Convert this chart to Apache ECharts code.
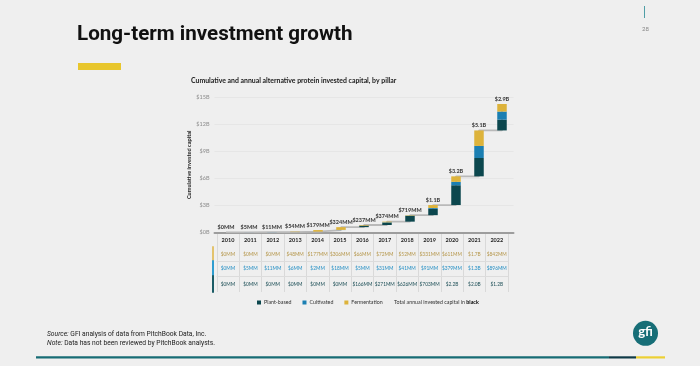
<!DOCTYPE html>
<html><head><meta charset="utf-8">
<script src="https://cdn.jsdelivr.net/npm/echarts@6/dist/echarts.min.js"></script>
<style>html,body{margin:0;padding:0;background:#efefef;}#c{width:700px;height:366px;}</style>
</head><body><div id="c"></div>
<script>
// ---- data (values in $MM) ----
const years = ['2010','2011','2012','2013','2014','2015','2016','2017','2018','2019','2020','2021','2022'];
const plantBased   = [0, 0, 0, 0, 0, 0, 166, 271, 626, 703, 2200, 2040, 1200];
const cultivated   = [0, 5, 11, 6, 2, 18, 5, 31, 41, 91, 379, 1340, 896];
const fermentation = [0, 0, 0, 48, 177, 306, 66, 72, 52, 331, 611, 1720, 842];
const totalLabels  = ['$0MM','$5MM','$11MM','$54MM','$179MM','$324MM','$237MM','$374MM','$719MM','$1.1B','$3.2B','$5.1B','$2.9B'];
const fermLabels   = ['$0MM','$0MM','$0MM','$48MM','$177MM','$306MM','$66MM','$72MM','$52MM','$331MM','$611MM','$1.7B','$842MM'];
const cultLabels   = ['$0MM','$5MM','$11MM','$6MM','$2MM','$18MM','$5MM','$31MM','$41MM','$91MM','$379MM','$1.3B','$896MM'];
const plantLabels  = ['$0MM','$0MM','$0MM','$0MM','$0MM','$0MM','$166MM','$271MM','$626MM','$703MM','$2.2B','$2.0B','$1.2B'];
const yTickLabels  = ['$0B','$3B','$6B','$9B','$12B','$15B'];

const COL_PLANT = '#0c474e', COL_CULT = '#1b7fb2', COL_FERM = '#ddb33b';
const FONT = 'Lato, "Open Sans", sans-serif';
const TITLEFONT = 'Roboto, sans-serif';

const base = [], tops = [];
let cum = 0;
for (let i = 0; i < years.length; i++) {
  base.push(cum);
  cum += plantBased[i] + cultivated[i] + fermentation[i];
  tops.push(cum);
}

const chart = echarts.init(document.getElementById('c'), null, {renderer: 'canvas'});

const TL = 216.8, TW = 291.2;
const rows = [
  {top: 233, h: 14, labels: years, color: '#1e1e1e', bold: true, line: null, bar: null},
  {top: 247, h: 14, labels: fermLabels, color: '#b5964a', bold: false, line: '#dcdcdc', bar: '#e3c36e'},
  {top: 261, h: 15, labels: cultLabels, color: '#2690c5', bold: false, line: '#dcdcdc', bar: '#2f9dd0'},
  {top: 276, h: 16, labels: plantLabels, color: '#1c4e56', bold: false, line: null, bar: '#1b5c66'}
];

const grids = [{left: 214.5, top: 97.3, width: 299, height: 135}];
const xAxes = [{
  gridIndex: 0, type: 'category', data: years,
  axisLine: {lineStyle: {color: '#9d9d9d', width: 2}},
  axisTick: {show: false}, axisLabel: {show: false}
}];
const yAxes = [{
  gridIndex: 0, type: 'value', min: 0, max: 15000, interval: 3000,
  axisLabel: {formatter: (v) => yTickLabels[Math.round(v / 3000)], color: '#8c8c8c', fontSize: 5.5, fontFamily: FONT, margin: 5},
  splitLine: {lineStyle: {color: '#e3e3e3', width: 0.8}},
  axisLine: {show: false}, axisTick: {show: false},
  name: 'Cumulative invested capital', nameLocation: 'middle', nameGap: 20, nameRotate: 90,
  nameTextStyle: {fontSize: 5.6, fontWeight: 'bold', color: '#222', fontFamily: FONT}
}];
rows.forEach((r, k) => {
  const gi = k + 1;
  grids.push({left: TL, top: r.top, width: TW, height: r.h});
  xAxes.push({
    gridIndex: gi, type: 'category', data: years, position: 'bottom',
    axisLine: {show: !!r.line, lineStyle: {color: r.line || '#ddd', width: 1}},
    axisTick: {show: false},
    splitLine: {show: true, interval: 0, lineStyle: {color: '#d9d9d9', width: 1}},
    axisLabel: {
      inside: true, margin: r.h / 2, verticalAlign: 'middle', interval: 0, hideOverlap: false,
      formatter: (v, i) => r.labels[i], color: r.color, fontSize: r.bold ? 5.5 : 4.8,
      fontWeight: r.bold ? 'bold' : 'normal', fontFamily: FONT
    }
  });
  yAxes.push({
    gridIndex: gi, type: 'value', min: 0, max: 1, offset: 4,
    axisLine: {show: !!r.bar, lineStyle: {color: r.bar || '#000', width: 2}},
    axisTick: {show: false}, axisLabel: {show: false}, splitLine: {show: false}
  });
});

const barCommon = {type: 'bar', stack: 'w', xAxisIndex: 0, yAxisIndex: 0, barWidth: 9.5, z: 3};

chart.setOption({
  animation: false,
  backgroundColor: '#efefef',
  textStyle: {fontFamily: FONT},
  title: {
    text: 'Cumulative and annual alternative protein invested capital, by pillar',
    left: 191, top: 77.5, padding: 0,
    textStyle: {fontSize: 6.9, fontWeight: 'bold', color: '#1a1a1a', fontFamily: FONT}
  },
  legend: {
    data: ['Plant-based', 'Cultivated', 'Fermentation'],
    left: 257, top: 300, icon: 'rect', itemWidth: 4, itemHeight: 4, itemGap: 11, padding: 0,
    textStyle: {fontSize: 5.3, color: '#333', fontFamily: FONT, padding: [0, 0, 0, -2]}
  },
  grid: grids, xAxis: xAxes, yAxis: yAxes,
  series: [
    Object.assign({}, barCommon, {name: 'base', data: base, itemStyle: {color: 'rgba(0,0,0,0)'}, silent: true}),
    Object.assign({}, barCommon, {name: 'Plant-based', data: plantBased, itemStyle: {color: COL_PLANT}}),
    Object.assign({}, barCommon, {name: 'Cultivated', data: cultivated, itemStyle: {color: COL_CULT}}),
    Object.assign({}, barCommon, {name: 'Fermentation', data: fermentation, itemStyle: {color: COL_FERM}}),
    {type: 'line', name: 'connector', data: tops, step: 'end', symbol: 'none', z: 2,
     lineStyle: {color: '#b9b9b9', width: 1.8}, xAxisIndex: 0, yAxisIndex: 0},
    {type: 'scatter', name: 'totals', data: tops, symbolSize: 0, z: 5, xAxisIndex: 0, yAxisIndex: 0,
     label: {show: true, position: 'top', distance: 2, formatter: (p) => totalLabels[p.dataIndex],
             fontSize: 5.5, fontWeight: 900, color: '#111', fontFamily: FONT}}
  ],
  graphic: [
    {type: 'text', left: 77, top: 24.5, style: {text: 'Long-term investment growth', font: 'bold 20.6px ' + TITLEFONT, fill: '#111'}},
    {type: 'rect', shape: {x: 78, y: 63, width: 43, height: 7}, style: {fill: '#e8c62c'}},
    {type: 'line', shape: {x1: 644.5, y1: 6, x2: 644.5, y2: 18}, style: {stroke: '#4f9ea6', lineWidth: 1}},
    {type: 'text', x: 642, y: 26, style: {text: '28', font: '6px ' + FONT, fill: '#888'}},
    {type: 'text', x: 394, y: 300, style: {
      text: 'Total annual invested capital in {b|black}', font: '5.3px ' + FONT, fill: '#333',
      rich: {b: {fontWeight: 'bold', fontSize: 5.3, fill: '#000', fontFamily: FONT}}}},
    {type: 'text', x: 47, y: 331, style: {
      text: '{i|Source:} GFI analysis of data from PitchBook Data, Inc.', font: '6.7px ' + TITLEFONT, fill: '#222',
      rich: {i: {fontStyle: 'italic', fontSize: 6.7, fontFamily: TITLEFONT, fill: '#222'}}}},
    {type: 'text', x: 47, y: 339.5, style: {
      text: '{i|Note:} Data has not been reviewed by PitchBook analysts.', font: '6.7px ' + TITLEFONT, fill: '#222',
      rich: {i: {fontStyle: 'italic', fontSize: 6.7, fontFamily: TITLEFONT, fill: '#222'}}}},
    {type: 'rect', shape: {x: 36, y: 356.3, width: 573, height: 2.2}, style: {fill: '#176c75'}},
    {type: 'rect', shape: {x: 609, y: 356.3, width: 27, height: 2.2}, style: {fill: '#0f3a47'}},
    {type: 'rect', shape: {x: 636, y: 356.3, width: 29, height: 2.2}, style: {fill: '#ecd033'}},
    {type: 'circle', shape: {cx: 645.5, cy: 333.3, r: 12.5}, style: {fill: '#176e77'}},
    {type: 'text', x: 645.5, y: 332, style: {text: 'gfi', font: 'bold 13px ' + FONT, fill: '#fff', align: 'center', verticalAlign: 'middle'}}
  ]
});
</script></body></html>
